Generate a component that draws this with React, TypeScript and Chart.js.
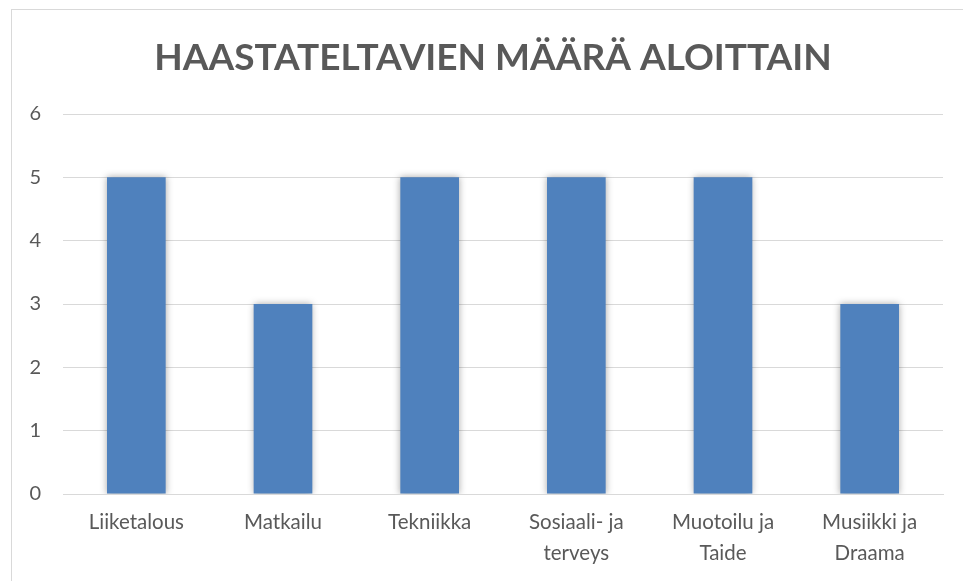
import React, { useEffect, useRef } from "react";
import { Chart, registerables } from "chart.js";

Chart.register(...registerables);

const TITLE = "HAASTATELTAVIEN MÄÄRÄ ALOITTAIN";
const categories: (string | string[])[] = [
  "Liiketalous",
  "Matkailu",
  "Tekniikka",
  ["Sosiaali- ja", "terveys"],
  ["Muotoilu ja", "Taide"],
  ["Musiikki ja", "Draama"],
];
const values = [5, 3, 5, 5, 5, 3];
const yTicks = [0, 1, 2, 3, 4, 5, 6];

const FONT = "Lato, 'Open Sans', sans-serif";
const TEXT = "#595959";
const GRID = "#d9d9d9";
const BAR = "#4f81bd";

const shadowPlugin = {
  id: "barShadow",
  beforeDatasetsDraw(chart: any) {
    const ctx = chart.ctx;
    ctx.save();
    ctx.shadowColor = "rgba(0,0,0,0.35)";
    ctx.shadowBlur = 7;
    ctx.shadowOffsetX = 0;
    ctx.shadowOffsetY = 0;
  },
  afterDatasetsDraw(chart: any) {
    chart.ctx.restore();
  },
};

const titlePlugin = {
  id: "customTitle",
  afterDraw(chart: any) {
    const ctx = chart.ctx;
    ctx.save();
    ctx.font = `bold 37px ${FONT}`;
    ctx.fillStyle = TEXT;
    ctx.textAlign = "center";
    ctx.textBaseline = "middle";
    ctx.fillText(TITLE, 493, 58);
    ctx.restore();
  },
};

export default function App() {
  const ref = useRef<HTMLCanvasElement | null>(null);
  useEffect(() => {
    if (!ref.current) return;
    const chart = new Chart(ref.current, {
      type: "bar",
      data: {
        labels: categories,
        datasets: [
          {
            data: values,
            backgroundColor: BAR,
            borderWidth: 0,
            barPercentage: 0.8,
            categoryPercentage: 0.5,
          },
        ],
      },
      options: {
        animation: false,
        responsive: false,
        maintainAspectRatio: false,
        layout: { padding: { left: 11, right: 20, top: 114, bottom: 0 } },
        plugins: {
          legend: { display: false },
          tooltip: { enabled: false },
          title: { display: false },
        },
        scales: {
          x: {
            grid: { display: false, drawTicks: false },
            border: { display: true, color: GRID, width: 1 },
            afterFit: (scale: any) => {
              scale.height = 87;
            },
            ticks: {
              color: TEXT,
              font: { family: FONT, size: 20.5, lineHeight: 1.5 },
              padding: 13,
              maxRotation: 0,
              autoSkip: false,
            },
          },
          y: {
            min: 0,
            max: 6,
            afterBuildTicks: (scale: any) => {
              scale.ticks = yTicks.map((v) => ({ value: v }));
            },
            afterFit: (scale: any) => {
              scale.width = 52;
            },
            grid: { color: GRID, lineWidth: 1, drawTicks: false },
            border: { display: false },
            ticks: {
              color: TEXT,
              font: { family: FONT, size: 20 },
              padding: 22,
            },
          },
        },
      },
      plugins: [shadowPlugin, titlePlugin],
    });
    return () => chart.destroy();
  }, []);

  return (
    <div
      style={{
        position: "fixed",
        left: 0,
        top: 0,
        width: 963,
        height: 581,
        overflow: "hidden",
        background: "#fff",
      }}
    >
      <div
        style={{
          position: "absolute",
          left: 11,
          top: 9,
          width: 980,
          height: 600,
          border: "1px solid #d9d9d9",
        }}
      />
      <canvas
        ref={ref}
        width={963}
        height={581}
        style={{ position: "absolute", left: 0, top: 0, width: 963, height: 581 }}
      />
    </div>
  );
}
